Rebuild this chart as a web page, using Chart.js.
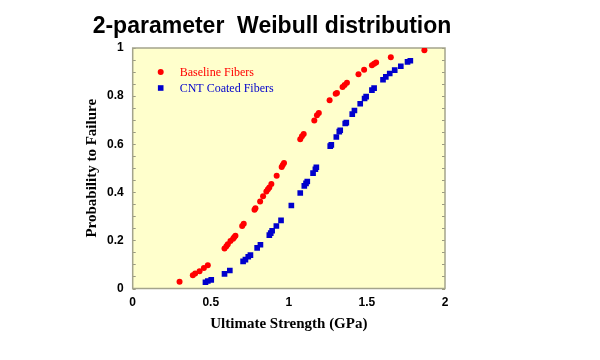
<!DOCTYPE html>
<html>
<head>
<meta charset="utf-8">
<script src="https://cdn.jsdelivr.net/npm/chart.js@4/dist/chart.umd.min.js"></script>
<style>
  html, body { margin: 0; padding: 0; background: #ffffff; }
  #wrap { width: 600px; height: 360px; }
</style>
</head>
<body>
<div id="wrap"><canvas id="weibullChart" width="600" height="360"></canvas></div>
<script>
// ==========================================
// DATA
// ==========================================
const baselineX = [0.300, 0.385, 0.400, 0.428, 0.456, 0.481, 0.588, 0.600, 0.609, 0.626, 0.643, 0.650, 0.658,
  0.701, 0.711, 0.780, 0.786, 0.816, 0.835, 0.856, 0.866, 0.875, 0.888, 0.922, 0.954, 0.961, 0.969,
  1.073, 1.084, 1.095, 1.163, 1.180, 1.192, 1.261, 1.300, 1.308, 1.344, 1.357, 1.372,
  1.446, 1.482, 1.532, 1.546, 1.559, 1.653, 1.868];
const baselineY = [0.028, 0.055, 0.062, 0.072, 0.085, 0.097, 0.166, 0.176, 0.184, 0.198, 0.207, 0.213, 0.219,
  0.260, 0.269, 0.327, 0.334, 0.362, 0.384, 0.403, 0.413, 0.420, 0.435, 0.469, 0.505, 0.513, 0.522,
  0.621, 0.633, 0.642, 0.699, 0.720, 0.730, 0.783, 0.810, 0.813, 0.838, 0.846, 0.855,
  0.891, 0.910, 0.928, 0.935, 0.940, 0.962, 0.991];

const cntX = [0.466, 0.481, 0.503, 0.588, 0.622, 0.707, 0.722, 0.740, 0.754, 0.797, 0.818,
  0.875, 0.884, 0.893, 0.920, 0.950, 1.016, 1.073, 1.099, 1.110, 1.118, 1.155, 1.170, 1.176,
  1.265, 1.272, 1.304, 1.323, 1.329, 1.361, 1.368, 1.406, 1.420, 1.457, 1.485, 1.495,
  1.532, 1.546, 1.603, 1.621, 1.646, 1.678, 1.717, 1.760, 1.778];
const cntY = [0.026, 0.031, 0.036, 0.061, 0.075, 0.113, 0.120, 0.132, 0.139, 0.169, 0.182,
  0.222, 0.230, 0.240, 0.260, 0.283, 0.345, 0.397, 0.427, 0.437, 0.445, 0.480, 0.496, 0.504,
  0.592, 0.597, 0.630, 0.652, 0.658, 0.686, 0.690, 0.725, 0.740, 0.768, 0.790, 0.798,
  0.825, 0.833, 0.868, 0.880, 0.894, 0.908, 0.924, 0.942, 0.947];

const seriesNames = ["Baseline Fibers", "CNT Coated Fibers"];
const xTickValues = [0, 0.5, 1, 1.5, 2];
const xTickLabels = ["0", "0.5", "1", "1.5", "2"];
const yTickValues = [0, 0.2, 0.4, 0.6, 0.8, 1];
const yTickLabels = ["0", "0.2", "0.4", "0.6", "0.8", "1"];
const yMinorStep = 0.05;

const chartTitle = "2-parameter  Weibull distribution";
const WARNA_MERAH = "#ff0000";
const WARNA_BIRU = "#0000cc";

function toPoints(xs, ys) {
  return xs.map((x, i) => ({ x: x, y: ys[i] }));
}

// ==========================================
// PLUGIN: latar plot, bingkai, tick minor, legenda, judul
// ==========================================
const plotDecor = {
  id: "plotDecor",
  beforeDatasetsDraw(chart) {
    const { ctx, chartArea: a } = chart;
    ctx.save();
    ctx.fillStyle = "#ffffcc";
    ctx.fillRect(a.left, a.top, a.right - a.left, a.bottom - a.top);

    // tick minor di kiri & kanan (ke dalam)
    const yScale = chart.scales.y;
    ctx.strokeStyle = "#9a9a80";
    ctx.lineWidth = 1;
    ctx.beginPath();
    for (let v = 0; v <= 1.0001; v += yMinorStep) {
      const py = Math.round(yScale.getPixelForValue(v)) + 0.5;
      ctx.moveTo(a.left, py); ctx.lineTo(a.left + 3, py);
      ctx.moveTo(a.right, py); ctx.lineTo(a.right - 3, py);
    }
    ctx.stroke();

    ctx.strokeStyle = "#a4a48c";
    ctx.lineWidth = 1.5;
    ctx.strokeRect(a.left, a.top, a.right - a.left, a.bottom - a.top);
    ctx.restore();
  },
  afterDraw(chart) {
    const { ctx, chartArea: a } = chart;
    ctx.save();
    // legenda
    const lx = a.left + 28, ly1 = a.top + 24, ly2 = a.top + 40;
    ctx.fillStyle = WARNA_MERAH;
    ctx.beginPath(); ctx.arc(lx, ly1, 3, 0, Math.PI * 2); ctx.fill();
    ctx.fillStyle = WARNA_BIRU;
    ctx.fillRect(lx - 2.8, ly2 - 2.8, 5.6, 5.6);
    ctx.font = "12px 'Liberation Serif', 'Times New Roman', serif";
    ctx.textBaseline = "middle";
    ctx.textAlign = "left";
    ctx.fillStyle = WARNA_MERAH;
    ctx.fillText(seriesNames[0], lx + 19, ly1 + 0.5);
    ctx.fillStyle = WARNA_BIRU;
    ctx.fillText(seriesNames[1], lx + 19, ly2 + 0.5);

    // judul
    ctx.fillStyle = "#000000";
    ctx.font = "bold 23px 'Liberation Sans', Arial, sans-serif";
    ctx.textAlign = "center";
    ctx.textBaseline = "alphabetic";
    ctx.fillText(chartTitle, 272, 33);
    ctx.restore();
  }
};

// ==========================================
// GRAFIK
// ==========================================
const ctxWeibull = document.getElementById("weibullChart").getContext("2d");
const weibullChart = new Chart(ctxWeibull, {
  type: "scatter",
  data: {
    datasets: [
      { label: seriesNames[0], data: toPoints(baselineX, baselineY), pointStyle: "circle",
        pointRadius: 3, pointHoverRadius: 3, backgroundColor: WARNA_MERAH, borderColor: WARNA_MERAH, borderWidth: 0 },
      { label: seriesNames[1], data: toPoints(cntX, cntY), pointStyle: "rect",
        pointRadius: 4, pointHoverRadius: 4, backgroundColor: WARNA_BIRU, borderColor: WARNA_BIRU, borderWidth: 0 }
    ]
  },
  options: {
    responsive: false, animation: false,
    layout: { padding: { left: 0, right: 155, top: 48, bottom: 0 } },
    plugins: { legend: { display: false }, tooltip: { enabled: false }, title: { display: false } },
    scales: {
      x: {
        type: "linear", min: 0, max: 2,
        grid: { display: false, drawTicks: false }, border: { display: false },
        afterBuildTicks: (s) => { s.ticks = xTickValues.map(v => ({ value: v })); },
        afterFit: (s) => { s.height = 71.5; },
        ticks: { color: "#000", padding: 7, maxRotation: 0,
          font: { family: "'Liberation Sans', Arial, sans-serif", size: 12, weight: "bold" },
          callback: (v) => xTickLabels[xTickValues.indexOf(v)] },
        title: { display: true, text: "Ultimate Strength (GPa)", color: "#000",
          font: { family: "'Liberation Serif', 'Times New Roman', serif", size: 15, weight: "bold" },
          padding: { top: 0, bottom: 27 } }
      },
      y: {
        type: "linear", min: 0, max: 1,
        grid: { display: false, drawTicks: false }, border: { display: false },
        afterBuildTicks: (s) => { s.ticks = yTickValues.map(v => ({ value: v })); },
        afterFit: (s) => { s.width = 132.7; },
        ticks: { color: "#000", padding: 9,
          font: { family: "'Liberation Sans', Arial, sans-serif", size: 12, weight: "bold" },
          callback: (v) => yTickLabels[yTickValues.indexOf(v)] },
        title: { display: true, text: "Probability to Failure", color: "#000",
          font: { family: "'Liberation Serif', 'Times New Roman', serif", size: 15, weight: "bold" },
          padding: { top: 83, bottom: 0 } }
      }
    }
  },
  plugins: [plotDecor]
});
</script>
</body>
</html>
